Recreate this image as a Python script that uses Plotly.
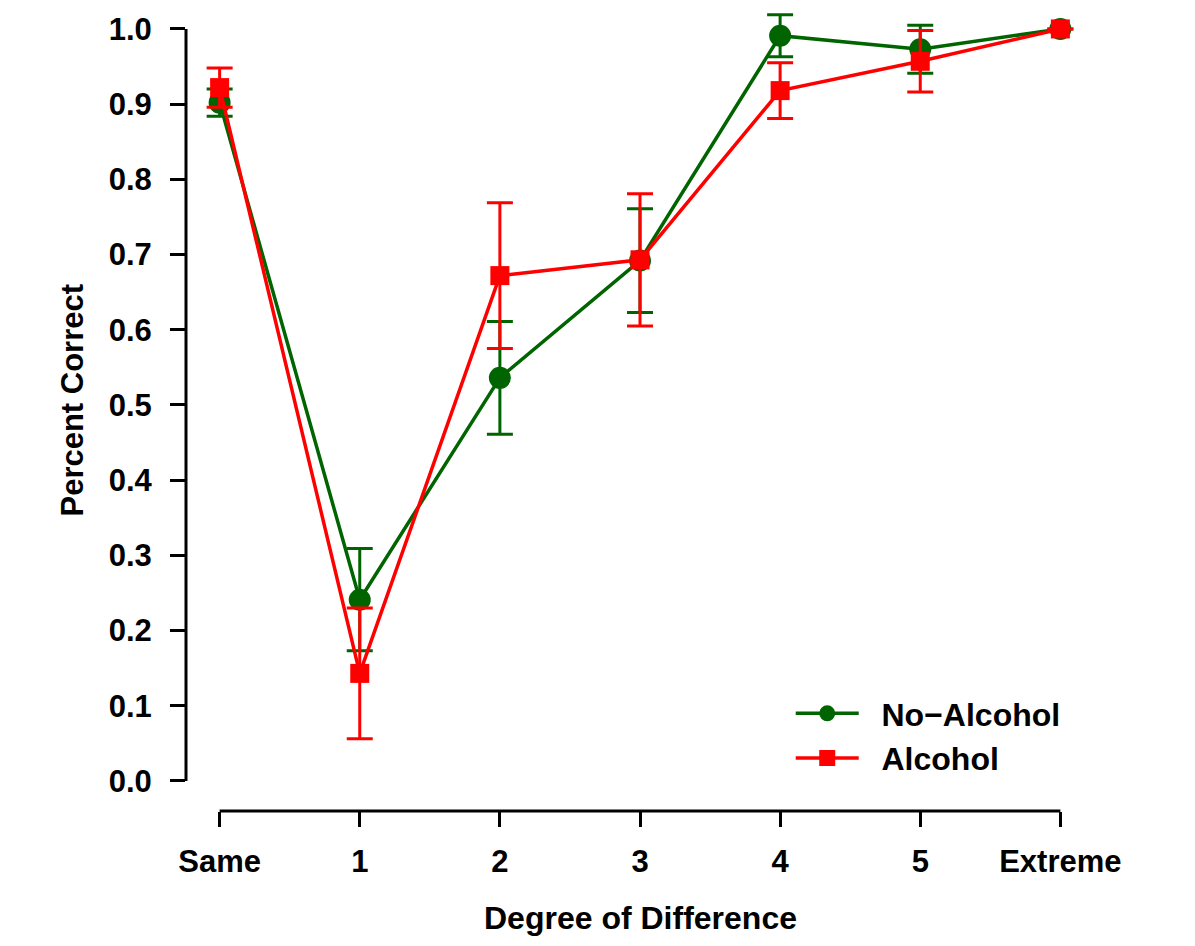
import plotly.graph_objects as go

categories = ["Same", "1", "2", "3", "4", "5", "Extreme"]

no_alcohol_mean = [0.902, 0.241, 0.536, 0.692, 0.991, 0.973, 1.000]
no_alcohol_err = [0.018, 0.068, 0.075, 0.069, 0.028, 0.032, 0.0]

alcohol_mean = [0.922, 0.143, 0.672, 0.693, 0.918, 0.957, 1.000]
alcohol_err = [0.026, 0.087, 0.097, 0.088, 0.037, 0.041, 0.0]

y_ticks = [0.0, 0.1, 0.2, 0.3, 0.4, 0.5, 0.6, 0.7, 0.8, 0.9, 1.0]

GREEN = "#006400"
RED = "#FF0000"
FONT = "Liberation Sans"
PAD = "\u00a0\u00a0"

fig = go.Figure()

fig.add_trace(go.Scatter(
    x=categories, y=no_alcohol_mean, name=PAD + "No\u2212Alcohol",
    mode="lines+markers",
    line=dict(color=GREEN, width=3.5),
    marker=dict(symbol="circle", size=22, color=GREEN),
    error_y=dict(type="data", array=no_alcohol_err, visible=True,
                 color=GREEN, thickness=3, width=13),
))
fig.add_trace(go.Scatter(
    x=categories, y=alcohol_mean, name=PAD + "Alcohol",
    mode="lines+markers",
    line=dict(color=RED, width=3.5),
    marker=dict(symbol="square", size=19, color=RED),
    error_y=dict(type="data", array=alcohol_err, visible=True,
                 color=RED, thickness=3, width=13),
))

# R-style detached axis lines
fig.add_shape(type="line", xref="paper", yref="y", x0=0, x1=0,
              y0=y_ticks[0], y1=y_ticks[-1], line=dict(color="black", width=3))
fig.add_shape(type="line", xref="x", yref="paper", x0=0, x1=len(categories) - 1,
              y0=0, y1=0, line=dict(color="black", width=3))

tick_font = dict(family=FONT, size=31, color="black", weight="bold")

fig.update_layout(
    width=1195, height=946,
    margin=dict(l=186, r=101, t=0, b=135),
    paper_bgcolor="white", plot_bgcolor="white",
    showlegend=True,
    legend=dict(x=0.666, y=0.0925, xanchor="left", yanchor="middle",
                font=dict(family=FONT, size=32, color="black", weight="bold"),
                bgcolor="rgba(0,0,0,0)", itemwidth=63, tracegroupgap=0),
    xaxis=dict(
        type="category", range=[-0.24, 6.24],
        showline=False, showgrid=False, zeroline=False,
        ticks="outside", ticklen=15, tickwidth=3, tickcolor="black",
        tickfont=tick_font, ticklabelstandoff=8,
        fixedrange=True,
    ),
    yaxis=dict(
        range=[-0.04, 1.0385],
        tickvals=y_ticks, ticktext=[f"{v:.1f}" for v in y_ticks],
        showline=False, showgrid=False, zeroline=False,
        ticks="outside", ticklen=15, tickwidth=3, tickcolor="black",
        tickfont=tick_font, ticklabelstandoff=12,
        fixedrange=True,
    ),
    annotations=[
        dict(text="Degree of Difference", xref="x", yref="paper",
             x=3, y=-0.132, xanchor="center", yanchor="middle",
             showarrow=False,
             font=dict(family=FONT, size=32, color="black", weight="bold")),
        dict(text="Percent Correct", xref="paper", yref="y",
             x=-0.1246, y=0.507, xanchor="center", yanchor="middle",
             textangle=-90, showarrow=False,
             font=dict(family=FONT, size=31, color="black", weight="bold")),
    ],
)

fig.write_html("out.html", config={"displayModeBar": False},
               post_script="document.body.style.margin='0';")
